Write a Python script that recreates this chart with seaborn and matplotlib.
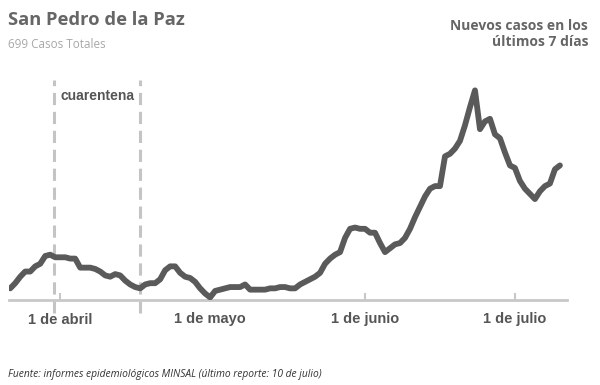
import pandas as pd
import seaborn as sns
import matplotlib.pyplot as plt

# nuevos casos en los ultimos 7 dias, desde el 22 de marzo hasta el 10 de julio
casos = [9, 13, 18, 22, 22, 26, 28, 34, 35, 33,
         33, 33, 32, 32, 25, 25, 25, 24, 22, 19,
         18, 20, 19, 15, 12, 10, 9, 12, 13, 13,
         16, 23, 26, 26, 21, 18, 17, 14, 9, 5,
         2, 7, 8, 9, 10, 10, 10, 12, 8, 8,
         8, 8, 9, 9, 10, 10, 9, 9, 12, 14,
         16, 18, 21, 28, 32, 35, 37, 48, 55, 56,
         55, 55, 52, 52, 44, 37, 40, 43, 44, 48,
         55, 64, 72, 80, 86, 88, 88, 111, 113, 117,
         123, 135, 149, 162, 132, 138, 140, 128, 125, 114,
         104, 102, 92, 86, 82, 78, 84, 88, 90, 101, 104]
fechas = pd.date_range('2020-03-22', periods=len(casos), freq='D')

tick_fechas = ['2020-04-01', '2020-05-01', '2020-06-01', '2020-07-01']
tick_labels = ['1 de abril', '1 de mayo', '1 de junio', '1 de julio']
cuarentena = ['2020-03-30 20:00', '2020-04-17']

df = pd.DataFrame({'fecha': fechas, 'casos': casos})

sns.set_style('white')
fig = plt.figure(figsize=(6, 3.85), dpi=100)
ax = fig.add_axes([9/600, 85/385, 558/600, 220/385])

sns.lineplot(data=df, x='fecha', y='casos', color='#5a5a5a', linewidth=4.2,
             ax=ax, solid_capstyle='round', solid_joinstyle='round', zorder=3)

for d in cuarentena:
    ax.axvline(pd.Timestamp(d), ymin=-0.06, ymax=1, color='#c4c4c4',
               linewidth=2.2, linestyle=(0, (4, 2.2)), clip_on=False, zorder=1)
ax.text(pd.Timestamp('2020-04-01'), 158, 'cuarentena', fontsize=10,
        fontweight='bold', color='#555555', family='Liberation Sans',
        va='center', ha='left')

ax.set_xlim(pd.Timestamp('2020-03-21 18:00'), pd.Timestamp('2020-07-11 10:00'))
ax.set_ylim(0, 170)
ax.set_yticks([])
ax.set_xticks([pd.Timestamp(t) for t in tick_fechas])
ax.set_xticklabels(tick_labels, fontsize=10.5, fontweight='bold',
                   color='#555555', family='Liberation Sans')
ax.tick_params(axis='x', direction='in', length=5, width=1.5,
               color='#c8c8c8', pad=9, bottom=True)
ax.set_xlabel('')
ax.set_ylabel('')
for s in ['top', 'right', 'left']:
    ax.spines[s].set_visible(False)
ax.spines['bottom'].set_color('#c8c8c8')
ax.spines['bottom'].set_linewidth(2)

fig.text(8/600, 1 - 20/385, 'San Pedro de la Paz', fontsize=13.2,
         fontweight='bold', color='#666666', family='Open Sans', va='center')
fig.text(8/600, 1 - 44/385, '699 Casos Totales', fontsize=8.4,
         color='#a8a8a8', family='Open Sans', va='center')
fig.text(588/600, 1 - 34/385, 'Nuevos casos en los\núltimos 7 días',
         fontsize=10, fontweight='bold', color='#666666', family='Open Sans',
         ha='right', va='center', linespacing=1.1)
fig.text(8/600, 1 - 374/385,
         'Fuente: informes epidemiológicos MINSAL (último reporte: 10 de julio)',
         fontsize=7.4, style='italic', color='#333333', family='Open Sans',
         va='center')

fig.savefig('out.png', dpi=100, facecolor='white')
